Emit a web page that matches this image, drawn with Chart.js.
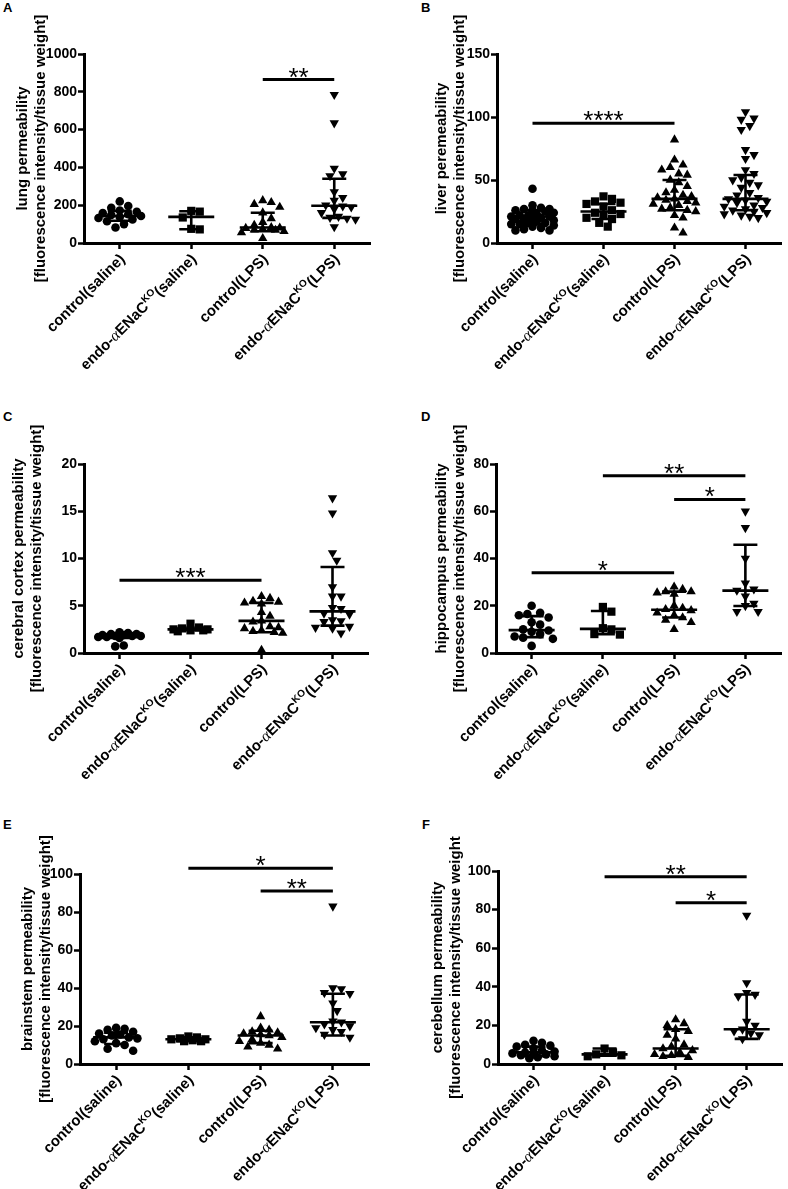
<!DOCTYPE html>
<html>
<head>
<meta charset="utf-8">
<script src="https://cdn.jsdelivr.net/npm/chart.js"></script>
<style>
  body { margin: 0; background: #fff; }
  #page { position: relative; width: 788px; height: 1189px; overflow: hidden; }
  canvas { position: absolute; }
  .letter { position: absolute; font: bold 13px "Liberation Sans", Arial, sans-serif; line-height: 13px; color: #000; }
</style>
</head>
<body>
<div id="page"></div>
<script>
const categories = ['control(saline)', 'endo-αENaC^KO(saline)', 'control(LPS)', 'endo-αENaC^KO(LPS)'];

// A - lung
const lungPoints = [
  [220, 196, 186, 172, 165, 158, 152, 148, 143, 138, 132, 125, 115, 100, 82],
  [170, 166, 135, 75, 72],
  [225, 215, 205, 190, 160, 130, 110, 95, 82, 80, 78, 75, 70, 68, 62, 55, 25],
  [785, 635, 395, 365, 355, 270, 240, 225, 200, 195, 190, 180, 160, 140, 135, 130, 125, 85]
];
const lungMedian = [143, 138, 82, 197];
const lungQ1 = [118, 73, 62, 133];
const lungQ3 = [170, 168, 160, 340];
const lungSig = [[3, 4, 865, '**']];

// B - liver
const liverPoints = [
  [43, 30, 28, 27, 27, 26, 26, 25, 24, 23, 22, 22, 21, 21, 20, 20, 19, 19, 18, 17, 16, 16, 15, 15, 14, 13, 12, 11, 10, 10],
  [37, 35, 33, 32, 31, 29, 26, 24, 23, 22, 20, 19, 16, 13],
  [82, 66, 62, 60, 58, 55, 54, 50, 48, 45, 42, 40, 38, 37, 36, 35, 34, 33, 32, 31, 30, 28, 27, 26, 25, 22, 20, 12, 8],
  [104, 99, 98, 93, 90, 74, 70, 67, 58, 55, 52, 50, 48, 46, 44, 40, 38, 36, 35, 34, 33, 32, 30, 29, 28, 27, 26, 25, 24, 23, 22, 21, 20]
];
const liverMedian = [21, 25, 35, 35];
const liverQ1 = [15, 19, 26, 26];
const liverQ3 = [26, 31, 50, 54];
const liverSig = [[1, 3, 95, '****']];

// C - cerebral cortex
const cortexPoints = [
  [2.2, 2.1, 2.0, 2.0, 1.9, 1.9, 1.8, 1.8, 1.8, 1.7, 1.7, 1.6, 0.8, 0.7],
  [3.1, 2.7, 2.6, 2.5, 2.5, 2.4, 2.4, 2.3],
  [6.0, 5.8, 5.5, 5.4, 5.3, 5.2, 4.3, 3.9, 3.4, 3.3, 2.8, 2.7, 2.6, 2.4, 2.3, 2.2, 2.1, 0.3],
  [16.4, 14.8, 10.6, 9.8, 7.0, 6.0, 6.0, 4.8, 4.7, 4.2, 4.1, 3.5, 3.4, 3.3, 2.8, 2.7, 2.6, 2.1]
];
const cortexMedian = [1.8, 2.5, 3.4, 4.4];
const cortexQ1 = [1.6, 2.4, 2.2, 2.9];
const cortexQ3 = [2.0, 2.6, 5.3, 9.1];
const cortexSig = [[1, 3, 7.7, '***']];

// D - hippocampus
const hippoPoints = [
  [20, 17, 16.5, 16, 15, 13, 12, 10, 9.5, 9, 8, 7, 6.5, 6, 3],
  [19.5, 17.5, 10.5, 10, 8, 7.8],
  [28, 27, 26, 26, 25.5, 25, 20, 19, 18.5, 18, 17, 16, 15, 14, 13, 10],
  [60, 53, 40, 29.5, 27, 26.5, 24, 21, 20, 17.5, 17.5]
];
const hippoMedian = [9.7, 10.2, 18.3, 26.4];
const hippoQ1 = [6.7, 8, 15, 19.9];
const hippoQ3 = [15.6, 17.8, 26, 45.8];
const hippoSig = [[1, 3, 34, '*'], [2, 4, 75, '**'], [3, 4, 65, '*']];

// E - brainstem
const brainstemPoints = [
  [19, 18.5, 18, 17, 16, 15.5, 15, 14, 13.5, 13, 12, 11, 10, 8, 7],
  [14.5, 14, 13.5, 13, 13, 12.5, 12, 12],
  [25, 19, 18, 17, 16.5, 16, 15.5, 15, 14, 13, 12, 11, 10, 9, 8],
  [83, 40, 39.5, 37.5, 37, 32, 28, 22.5, 22, 21, 20, 19, 18, 17, 15.5, 14]
];
const brainstemMedian = [14, 13, 15, 22];
const brainstemQ1 = [10.5, 12, 11, 15];
const brainstemQ3 = [16.5, 14, 17.5, 37];
const brainstemSig = [[2, 4, 103, '*'], [3, 4, 91, '**']];

// F - cerebellum
const cerebellumPoints = [
  [12, 11, 10, 9.5, 9, 8, 7, 6.5, 6, 5.5, 5, 5, 4.5, 4, 3.5, 3],
  [8, 6, 5, 4.5, 4],
  [23, 21, 20, 18, 17, 15, 13, 10, 9, 8, 7, 6, 5, 4.5, 4, 3.5],
  [77, 42, 37, 36, 35, 22, 20, 18, 17, 16, 15, 13]
];
const cerebellumMedian = [6, 5, 8, 18];
const cerebellumQ1 = [4, 4.3, 4.2, 13];
const cerebellumQ3 = [9, 8, 18, 36];
const cerebellumSig = [[2, 4, 97, '**'], [3, 4, 83.5, '*']];

const titleSecond = '[fluorescence intensity/tissue weight]';
const FONT = '"Liberation Sans", Arial, sans-serif';

const panels = [
  { letter: 'A', lx: 3, ly: 1, left: 0, top: 0, w: 394, h: 395, x0: 84, x1: 370, y0: 54, y1: 243, yMax: 1000, step: 200, padL: 13,
    title: ['lung permeability', titleSecond], points: lungPoints, median: lungMedian, q1: lungQ1, q3: lungQ3, sig: lungSig },
  { letter: 'B', lx: 421, ly: 1, left: 394, top: 0, w: 394, h: 395, x0: 497, x1: 781, y0: 54, y1: 243, yMax: 150, step: 50, padL: 38,
    title: ['liver peremeability', titleSecond], points: liverPoints, median: liverMedian, q1: liverQ1, q3: liverQ3, sig: liverSig },
  { letter: 'C', lx: 3, ly: 410, left: 0, top: 395, w: 394, h: 400, x0: 84, x1: 368, y0: 464, y1: 653, yMax: 20, step: 5, padL: 9,
    title: ['cerebral cortex permeability', titleSecond], points: cortexPoints, median: cortexMedian, q1: cortexQ1, q3: cortexQ3, sig: cortexSig },
  { letter: 'D', lx: 421, ly: 410, left: 394, top: 395, w: 394, h: 400, x0: 496, x1: 781, y0: 464, y1: 653, yMax: 80, step: 20, padL: 38,
    title: ['hippocampus permeability', titleSecond], points: hippoPoints, median: hippoMedian, q1: hippoQ1, q3: hippoQ3, sig: hippoSig },
  { letter: 'E', lx: 3, ly: 818, left: 0, top: 795, w: 394, h: 394, x0: 80, x1: 369, y0: 874, y1: 1064, yMax: 100, step: 20, padL: 18,
    title: ['brainstem permeability', titleSecond], points: brainstemPoints, median: brainstemMedian, q1: brainstemQ1, q3: brainstemQ3, sig: brainstemSig },
  { letter: 'F', lx: 422, ly: 818, left: 394, top: 795, w: 394, h: 394, x0: 498, x1: 785, y0: 871, y1: 1064, yMax: 100, step: 20, padL: 34,
    title: ['cerebellum permeability', '[fluorescence intensity/tissue weight'], points: cerebellumPoints, median: cerebellumMedian, q1: cerebellumQ1, q3: cerebellumQ3, sig: cerebellumSig }
];

const markers = [
  { style: 'circle', radius: 4.3, rotation: 0 },
  { style: 'rect', radius: 5.8, rotation: 0 },
  { style: 'triangle', radius: 5.4, rotation: 0 },
  { style: 'triangle', radius: 5.4, rotation: 180 }
];

// spread points sideways so they overlap as little as possible (GraphPad-like scatter)
function swarm(values, center, pxPerUnit, pxPerCat, d, maxHalf) {
  const placed = [];
  const cands = [0];
  for (let s = d / 2; s <= maxHalf; s += d / 2) cands.push(s, -s);
  return values.map(v => {
    const y = v * pxPerUnit;
    let best = 0, bestScore = -1;
    for (const dx of cands) {
      const minD = placed.reduce((m, p) => Math.min(m, Math.hypot(p.x - dx, p.y - y)), Infinity);
      if (minD >= d) { best = dx; break; }
      if (minD > bestScore) { bestScore = minD; best = dx; }
    }
    placed.push({ x: best, y });
    return { x: center + best / pxPerCat, y: v };
  });
}

function splitLabel(label) {
  const m = label.match(/^(.*?)α(.*?)\^KO(.*)$/);
  const bold = 'bold 15px ' + FONT;
  if (!m) return [{ text: label, font: bold, dy: 0 }];
  return [
    { text: m[1], font: bold, dy: 0 },
    { text: 'α', font: 'italic 16px "Liberation Serif", serif', dy: 0 },
    { text: m[2], font: bold, dy: 0 },
    { text: 'KO', font: 'bold 10px ' + FONT, dy: -5 },
    { text: m[3], font: bold, dy: 0 }
  ];
}

const xLabels = {
  id: 'xLabels',
  afterDraw(chart) {
    const { ctx, scales: { x } } = chart;
    categories.forEach((label, i) => {
      const px = x.getPixelForValue(i + 1);
      const parts = splitLabel(label);
      ctx.save();
      ctx.translate(px + 3, x.top + 14);
      ctx.rotate(-Math.PI / 4);
      ctx.textBaseline = 'middle';
      ctx.textAlign = 'left';
      ctx.fillStyle = '#000';
      let total = 0;
      parts.forEach(pt => { ctx.font = pt.font; pt.w = ctx.measureText(pt.text).width; total += pt.w; });
      let cx = -total;
      parts.forEach(pt => { ctx.font = pt.font; ctx.fillText(pt.text, cx, pt.dy); cx += pt.w; });
      ctx.restore();
    });
  }
};

const summary = {
  id: 'summary',
  afterDatasetsDraw(chart, args, opts) {
    const { ctx, scales: { x, y } } = chart;
    ctx.save();
    ctx.strokeStyle = '#000';
    ctx.lineWidth = 2.6;
    opts.median.forEach((m, i) => {
      const cx = x.getPixelForValue(i + 1);
      const ym = y.getPixelForValue(m), ya = y.getPixelForValue(opts.q1[i]), yb = y.getPixelForValue(opts.q3[i]);
      ctx.beginPath();
      ctx.moveTo(cx - 23, ym); ctx.lineTo(cx + 23, ym);
      ctx.moveTo(cx, ya); ctx.lineTo(cx, yb);
      ctx.moveTo(cx - 12, ya); ctx.lineTo(cx + 12, ya);
      ctx.moveTo(cx - 12, yb); ctx.lineTo(cx + 12, yb);
      ctx.stroke();
    });
    ctx.lineWidth = 3;
    ctx.fillStyle = '#000';
    ctx.font = '26px ' + FONT;
    ctx.textAlign = 'center';
    ctx.textBaseline = 'alphabetic';
    opts.sig.forEach(([a, b, v, stars]) => {
      const xa = x.getPixelForValue(a), xb = x.getPixelForValue(b), yy = y.getPixelForValue(v);
      ctx.beginPath();
      ctx.moveTo(xa, yy); ctx.lineTo(xb, yy);
      ctx.stroke();
      ctx.fillText(stars, (xa + xb) / 2, yy + 6);
    });
    ctx.restore();
  }
};

const page = document.getElementById('page');

panels.forEach(p => {
  const div = document.createElement('div');
  div.className = 'letter';
  div.style.left = p.lx + 'px';
  div.style.top = p.ly + 'px';
  div.textContent = p.letter;
  page.appendChild(div);

  const canvas = document.createElement('canvas');
  canvas.width = p.w;
  canvas.height = p.h;
  canvas.style.left = p.left + 'px';
  canvas.style.top = p.top + 'px';
  page.appendChild(canvas);

  const pxPerUnit = (p.y1 - p.y0) / p.yMax;
  const pxPerCat = (p.x1 - p.x0) / 4;

  const datasets = p.points.map((vals, i) => ({
    label: categories[i],
    data: swarm(vals, i + 1, pxPerUnit, pxPerCat, 8.5, 22),
    pointStyle: markers[i].style,
    pointRadius: markers[i].radius,
    pointRotation: markers[i].rotation,
    backgroundColor: '#000',
    borderColor: '#000',
    borderWidth: 0,
    clip: false
  }));

  new Chart(canvas, {
    type: 'scatter',
    data: { datasets },
    plugins: [xLabels, summary],
    options: {
      responsive: false,
      animation: false,
      layout: {
        padding: { left: p.padL, top: p.y0 - p.top, right: p.left + p.w - p.x1, bottom: p.top + p.h - p.y1 - 6 }
      },
      plugins: {
        legend: { display: false },
        tooltip: { enabled: false },
        summary: { median: p.median, q1: p.q1, q3: p.q3, sig: p.sig }
      },
      scales: {
        x: {
          type: 'linear',
          min: 0.5,
          max: 4.5,
          afterBuildTicks: s => { s.ticks = categories.map((c, i) => ({ value: i + 1 })); },
          afterFit: s => { s.height = 6; },
          ticks: { display: false },
          grid: { drawOnChartArea: false, tickLength: 6, tickWidth: 2.5, tickColor: '#000' },
          border: { color: '#000', width: 3 }
        },
        y: {
          min: 0,
          max: p.yMax,
          afterFit: s => { s.width = p.x0 - p.left - p.padL; },
          ticks: { stepSize: p.step, color: '#000', padding: 1, callback: v => String(v), font: { family: FONT, size: 14, weight: 'bold' } },
          grid: { drawOnChartArea: false, tickLength: 6, tickWidth: 2.5, tickColor: '#000' },
          border: { color: '#000', width: 3 },
          title: {
            display: true,
            text: p.title,
            color: '#000',
            padding: 0,
            font: { family: FONT, size: 15, weight: 'bold', lineHeight: 1.25 }
          }
        }
      }
    }
  });
});
</script>
</body>
</html>
